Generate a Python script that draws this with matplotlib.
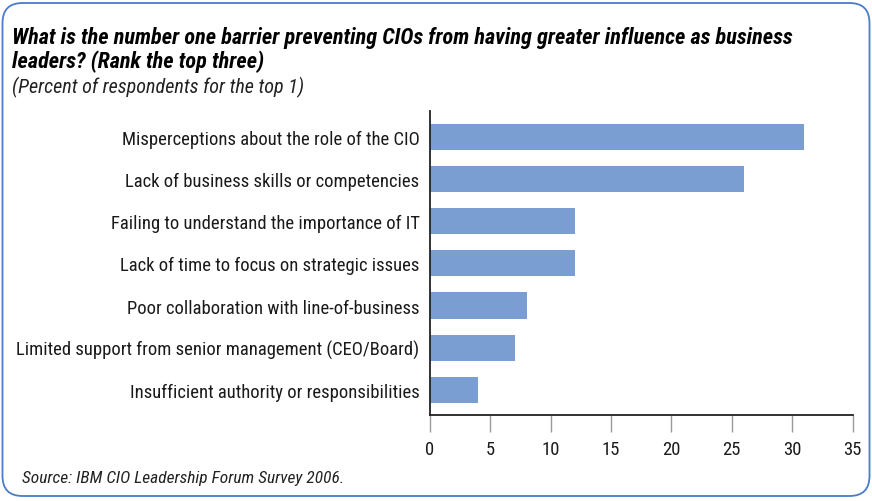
import matplotlib.pyplot as plt
from matplotlib.patches import FancyBboxPatch

# Survey responses, top barrier (percent of respondents)
barriers = [
    "Misperceptions about the role of the CIO",
    "Lack of business skills or competencies",
    "Failing to understand the importance of IT",
    "Lack of time to focus on strategic issues",
    "Poor collaboration with line-of-business",
    "Limited support from senior management (CEO/Board)",
    "Insufficient authority or responsibilities",
]
percent = [31, 26, 12, 12, 8, 7, 4]
x_ticks = [0, 5, 10, 15, 20, 25, 30, 35]

plt.rcParams['font.family'] = ['Roboto Condensed', 'DejaVu Sans']

fig = plt.figure(figsize=(8.72, 5.02), dpi=100)
W, H = 872, 502

# rounded blue frame around the whole chart
frame = FancyBboxPatch((2.5, 5), W - 5, H - 9,
                       boxstyle="round,pad=0,rounding_size=20",
                       transform=None, fill=False,
                       edgecolor='#4a7cc7', linewidth=1.3)
fig.patches.append(frame)

ax = fig.add_axes([430 / W, 1 - 416 / H, (852.5 - 430) / W, (416 - 112) / H])
ax.barh(range(len(barriers)), percent, height=0.62, color='#7a9ed2')
ax.set_ylim(len(barriers) - 0.4, -0.62)
ax.set_xlim(0, 35)
ax.set_xticks(x_ticks)
ax.set_yticks(range(len(barriers)))
ax.set_yticklabels(barriers, fontsize=13.4, color='#1a1a1a')
ax.tick_params(axis='y', length=0, pad=7.5)
ax.tick_params(axis='x', length=12, width=1, color='#9a9a9a', labelsize=13.4,
               labelcolor='#1a1a1a', pad=6)
for s in ['top', 'right']:
    ax.spines[s].set_visible(False)
ax.spines['left'].set_color('#222222')
ax.spines['bottom'].set_color('#222222')
ax.spines['left'].set_linewidth(1.3)
ax.spines['bottom'].set_linewidth(1.3)

fig.text(12 / W, 1 - 38 / H,
         "What is the number one barrier preventing CIOs from having greater influence as business",
         fontsize=16, fontweight='bold', fontstyle='italic', va='center', ha='left')
fig.text(12 / W, 1 - 62 / H, "leaders? (Rank the top three)",
         fontsize=16, fontweight='bold', fontstyle='italic', va='center', ha='left')
fig.text(12 / W, 1 - 87 / H, "(Percent of respondents for the top 1)",
         fontsize=14.5, fontstyle='italic', va='center', ha='left', color='#222222')
fig.text(22 / W, 1 - 479 / H, "Source: IBM CIO Leadership Forum Survey 2006.",
         fontsize=12.5, fontstyle='italic', va='center', ha='left', color='#222222')

fig.savefig("out.png", dpi=100)
